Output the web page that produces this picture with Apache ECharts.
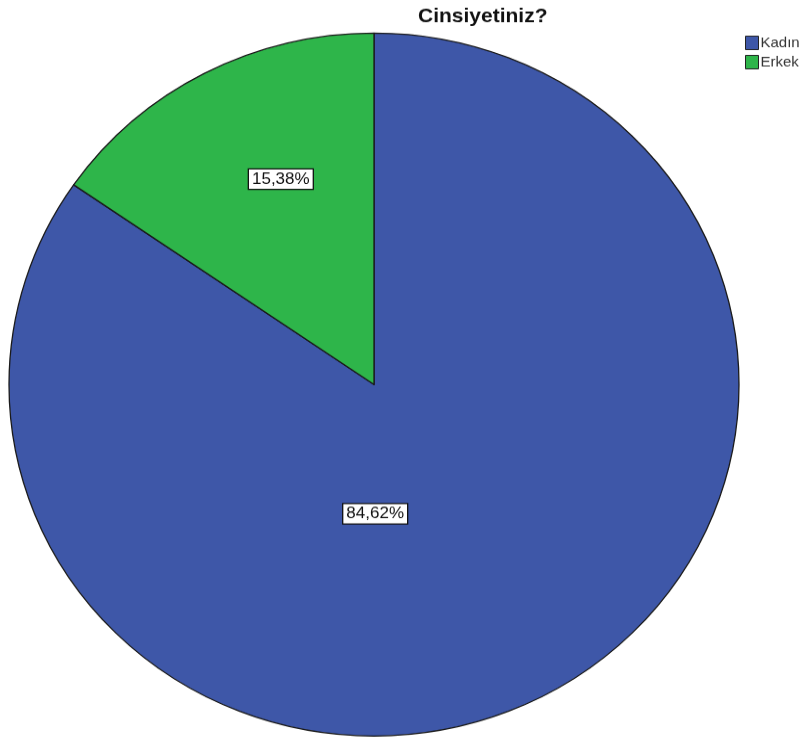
<!DOCTYPE html>
<html><head><meta charset="utf-8">
<script src="https://cdn.jsdelivr.net/npm/echarts@6/dist/echarts.min.js"></script>
<style>html,body{margin:0;padding:0;background:#fff;overflow:hidden}
#c{width:809px;height:771px;transform:scaleY(0.963);transform-origin:0 0}</style>
</head><body><div id="c"></div>
<script>
const categories = ['Kadın', 'Erkek'];
const values = [84.62, 15.38];
const labelTexts = ['84,62%', '15,38%'];
const colors = ['#3e57a8', '#2eb54a'];

const chart = echarts.init(document.getElementById('c'), null, {renderer: 'canvas'});
const labelShift = [[-85, -30], [-7, -49]];
chart.setOption({
  animation: false,
  title: {
    text: 'Cinsiyetiniz?', left: 413, top: 2,
    textStyle: {fontFamily: 'Liberation Sans, Arial, sans-serif', fontWeight: 'bold', fontSize: 21, color: '#111'}
  },
  legend: {
    orient: 'vertical', left: 745, top: 37, itemWidth: 13, itemHeight: 14, itemGap: 5, padding: 0,
    icon: 'rect', selectedMode: false,
    textStyle: {fontFamily: 'Liberation Sans, Arial, sans-serif', fontSize: 15, color: '#333', lineHeight: 14, padding: [0, 0, 0, -3]},
    itemStyle: {borderColor: '#222', borderWidth: 1},
    data: categories
  },
  series: [{
    type: 'pie',
    center: [374, 399.3],
    radius: [0, 365],
    startAngle: 90,
    clockwise: true,
    data: categories.map((n, i) => ({name: n, value: values[i], itemStyle: {color: colors[i]}})),
    itemStyle: {borderColor: '#1a1a1a', borderWidth: 1.3},
    emphasis: {disabled: true},
    label: {
      show: true, position: 'inside',
      formatter: p => labelTexts[p.dataIndex],
      fontFamily: 'Liberation Sans, Arial, sans-serif', fontSize: 17, color: '#111',
      backgroundColor: '#fff', borderColor: '#111', borderWidth: 1.3,
      padding: [2, 3, 1, 3]
    },
    labelLayout: p => ({dx: labelShift[p.dataIndex][0], dy: labelShift[p.dataIndex][1]}),
    labelLine: {show: false}
  }]
});
</script></body></html>
